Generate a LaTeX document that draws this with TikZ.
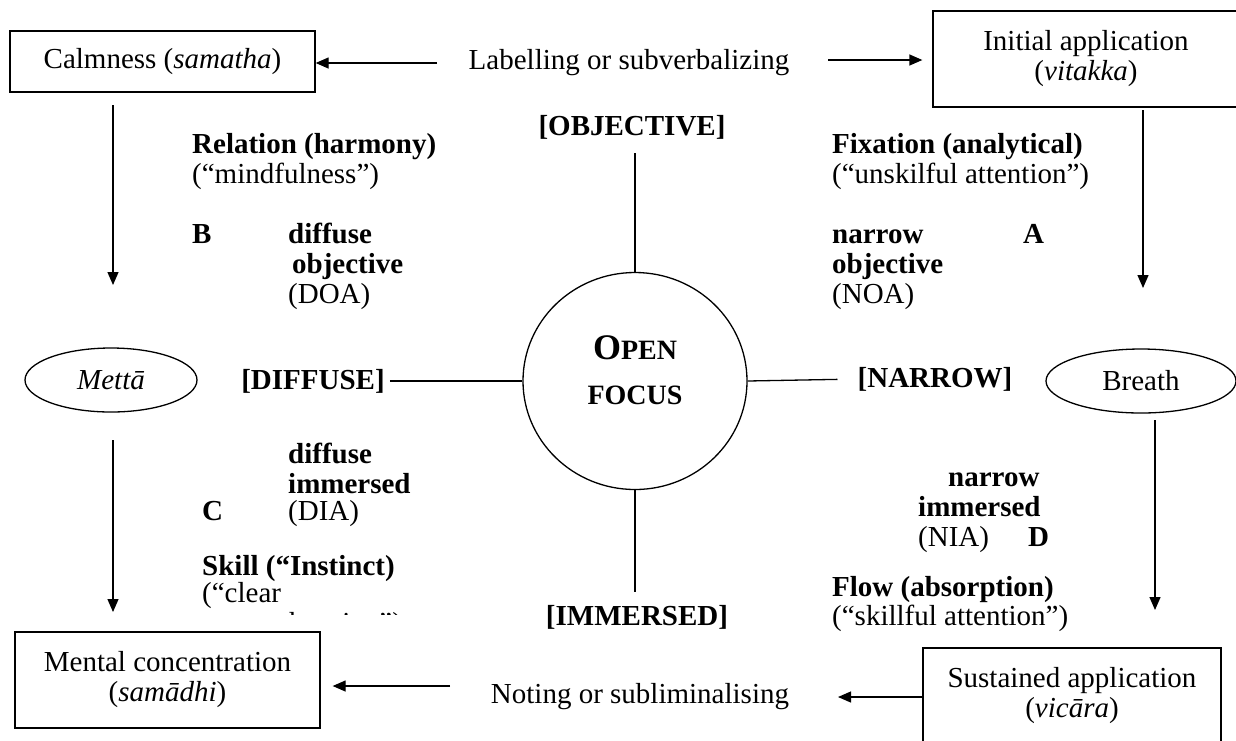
\documentclass[tikz,border=0pt]{standalone}
\usepackage{fontspec}
\setmainfont{Liberation Serif}
\usetikzlibrary{arrows.meta,shapes.geometric}
\begin{document}
\begin{tikzpicture}[x=1pt,y=-1pt,
  every node/.style={font=\fontsize{29}{30}\selectfont},
  box/.style={draw, line width=1.3pt, rectangle, inner sep=0, align=center},
  oval/.style={draw, line width=1.3pt, ellipse, inner sep=0},
  txt/.style={inner sep=0, anchor=base west},
  btxt/.style={txt, font=\fontsize{29}{30}\selectfont\bfseries},
  lbl/.style={inner sep=0, font=\fontsize{29}{30}\selectfont\bfseries},
  plain/.style={inner sep=0},
  arr/.style={line width=1.3pt, -{Triangle[length=13pt,width=11pt]}},
  ln/.style={line width=1.3pt}]
\useasboundingbox (0,0) rectangle (1236,740);
\clip (0,0) rectangle (1236,740);
% boxes
\node[box, minimum width=305, minimum height=61] (calm) at (162.5,61.5) {Calmness (\textit{samatha})};
\node[box, minimum width=306, minimum height=96] (init) at (1086,59) {Initial application\\(\textit{vitakka})};
\node[box, minimum width=305, minimum height=96] (ment) at (167.5,680) {Mental concentration\\(\textit{samādhi})};
\node[box, minimum width=298, minimum height=96] (sust) at (1072,696) {Sustained application\\(\textit{vicāra})};
% ellipses
\node[oval, minimum width=172, minimum height=64] (metta) at (111,380) {\textit{Mettā}};
\node[oval, minimum width=190, minimum height=64] (breath) at (1141,381) {Breath};
\node[oval, minimum width=224, minimum height=217] (open) at (635,381) {};
\node[inner sep=0, align=center, font=\fontsize{28}{45}\selectfont\bfseries] (opentext) at ([yshift=11pt]open.center) {{\fontsize{36}{45}\selectfont O}PEN\\FOCUS};
% labels
\node[plain] (lab) at (629,63) {Labelling or subverbalizing};
\node[plain] (note) at (640,697) {Noting or subliminalising};
\node[lbl] (obj) at (632,127) {[OBJECTIVE]};
\node[lbl] (dif) at (313,381) {[DIFFUSE]};
\node[lbl] (nar) at (935,379) {[NARROW]};
\node[lbl] (imm) at (637,617) {[IMMERSED]};
% spokes
\draw[ln, shorten <=14pt] (obj.south -| open) -- (open.north);
\draw[ln, shorten <=5pt] (dif.east) -- (open.west);
\draw[ln, shorten >=20pt] (open.east) -- (nar.west);
\draw[ln, shorten >=13pt] (open.south) -- (imm.north -| open);
% horizontal arrows
\coordinate (t1) at (437,63);
\coordinate (t2) at (828,60);
\coordinate (t3) at (450,686);
\coordinate (t4) at (838,697);
\draw[arr] (t1) -- (t1 -| calm.east);
\draw[arr, shorten >=10pt] (t2) -- (t2 -| init.west);
\draw[arr] (t3) -- ([xshift=12pt]t3 -| ment.east);
\draw[arr] (t4 -| sust.west) -- (t4);
% vertical arrows
\coordinate (v1a) at (113,105); \coordinate (v1b) at (113,285);
\coordinate (v2a) at (1143,110); \coordinate (v2b) at (1143,288);
\coordinate (v3a) at (113,440); \coordinate (v3b) at (113,612);
\coordinate (v4a) at (1155,420); \coordinate (v4b) at (1155,610);
\draw[arr] (v1a) -- (v1b);
\draw[arr] (v2a) -- (v2b);
\draw[arr] (v3a) -- (v3b);
\draw[arr] (v4a) -- (v4b);
% left top block
\node[btxt] (r1) at (192,153) {Relation (harmony)};
\node[txt] (r2) at (192,183) {(“mindfulness”)};
\node[btxt] (r3) at (192,243) {B};
\node[btxt] (r4) at (288,243) {diffuse};
\node[btxt] (r5) at (292,273) {objective};
\node[txt] (r6) at (288,303) {(DOA)};
% right top block
\node[btxt] (f1) at (832,153) {Fixation (analytical)};
\node[txt] (f2) at (832,183) {(“unskilful attention”)};
\node[btxt] (f3) at (832,243) {narrow};
\node[btxt] (f4) at (1023,243) {A};
\node[btxt] (f5) at (832,273) {objective};
\node[txt] (f6) at (832,303) {(NOA)};
% left bottom block
\node[btxt] (c1) at (288,463) {diffuse};
\node[btxt] (c2) at (288,493) {immersed};
\node[btxt] (c3) at (202,520) {C};
\node[txt] (c4) at (288,520) {(DIA)};
\node[btxt] (c5) at (202,575) {Skill (“Instinct)};
\node[txt] (c6) at (202,602) {(“clear};
\begin{scope}
\clip (150,560) rectangle (460,614);
\node[txt] (c7) at (202,632) {comprehension”)};
\end{scope}
% right bottom block
\node[btxt] (d1) at (948,486) {narrow};
\node[btxt] (d2) at (918,516) {immersed};
\node[txt] (d3) at (918,546) {(NIA)};
\node[btxt] (d4) at (1028,546) {D};
\node[btxt] (d5) at (832,596) {Flow (absorption)};
\node[txt] (d6) at (832,625) {(“skillful attention”)};
\end{tikzpicture}
\end{document}
